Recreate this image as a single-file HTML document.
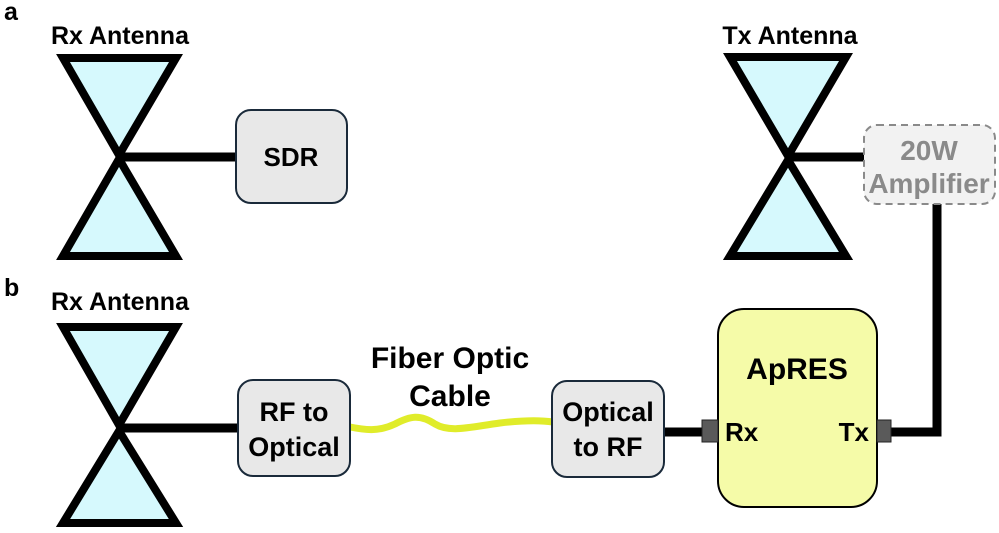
<!DOCTYPE html>
<html><head><meta charset="utf-8"><style>
html,body{margin:0;padding:0;background:#fff;}
svg{display:block;font-family:"Liberation Sans",Arial,sans-serif;font-weight:bold;}
</style></head><body>
<svg width="999" height="533" viewBox="0 0 999 533" xmlns="http://www.w3.org/2000/svg">
<text x="4" y="20" font-size="25">a</text>
<text x="4" y="296" font-size="25">b</text>
<text x="120" y="44" font-size="25" text-anchor="middle">Rx Antenna</text>
<text x="790" y="44" font-size="25" text-anchor="middle">Tx Antenna</text>
<text x="120" y="310" font-size="25" text-anchor="middle">Rx Antenna</text>

<!-- wires -->
<g stroke="#000" stroke-width="9" fill="none">
<line x1="119" y1="157" x2="236" y2="157"/>
<line x1="788" y1="157" x2="864" y2="157"/>
<line x1="119" y1="428" x2="239" y2="428"/>
<line x1="664" y1="432" x2="704" y2="432"/>
<polyline points="888,432 937,432 937,204"/>
</g>

<!-- antennas -->
<g fill="#d6f9fd" stroke="#000" stroke-width="8" stroke-linejoin="miter">
<polygon points="63,58 176,58 119,155"/>
<polygon points="63,256 176,256 119,159"/>
<polygon points="730,57 846,57 788,156"/>
<polygon points="730,256 846,256 788,160"/>
<polygon points="63,327 176,327 119,425"/>
<polygon points="63,523 176,523 119,431"/>
</g>

<!-- SDR -->
<rect x="236" y="110" width="111" height="93" rx="15" fill="#e8e8e8" stroke="#1a2a3a" stroke-width="2"/>
<text x="291" y="166" font-size="26" text-anchor="middle">SDR</text>

<!-- Amplifier -->
<rect x="864" y="125" width="131" height="79" rx="13" fill="#f2f2f2" stroke="#8a8a8a" stroke-width="2" stroke-dasharray="7,5"/>
<text x="929" y="160" font-size="28" text-anchor="middle" fill="#8a8a8a">20W</text>
<text x="929" y="193" font-size="28" text-anchor="middle" fill="#8a8a8a">Amplifier</text>

<!-- fiber -->
<path d="M350,427 C365,430 378,432 395,424 C410,416 420,414 435,424 C450,433 470,427 500,423 C525,420 540,420 553,422" stroke="#e0ec2a" stroke-width="7" fill="none"/>
<text x="450" y="368" font-size="30" text-anchor="middle">Fiber Optic</text>
<text x="450" y="406" font-size="30" text-anchor="middle">Cable</text>

<rect x="238" y="380" width="112" height="96" rx="15" fill="#e8e8e8" stroke="#1a2a3a" stroke-width="2"/>
<text x="294" y="421" font-size="27" text-anchor="middle">RF to</text>
<text x="294" y="456" font-size="27" text-anchor="middle">Optical</text>

<rect x="552" y="381" width="112" height="96" rx="15" fill="#e8e8e8" stroke="#1a2a3a" stroke-width="2"/>
<text x="608" y="421" font-size="27" text-anchor="middle">Optical</text>
<text x="608" y="456" font-size="27" text-anchor="middle">to RF</text>

<!-- ApRES -->
<rect x="718" y="309" width="159" height="198" rx="26" fill="#f5fba8" stroke="#000" stroke-width="2"/>
<text x="797" y="379" font-size="30" text-anchor="middle">ApRES</text>
<rect x="702" y="420" width="16" height="22" fill="#5a5a5a" stroke="#222" stroke-width="1"/>
<rect x="877" y="420" width="14" height="22" fill="#5a5a5a" stroke="#222" stroke-width="1"/>
<text x="725" y="441" font-size="26">Rx</text>
<text x="869" y="441" font-size="26" text-anchor="end">Tx</text>
</svg>
</body></html>
